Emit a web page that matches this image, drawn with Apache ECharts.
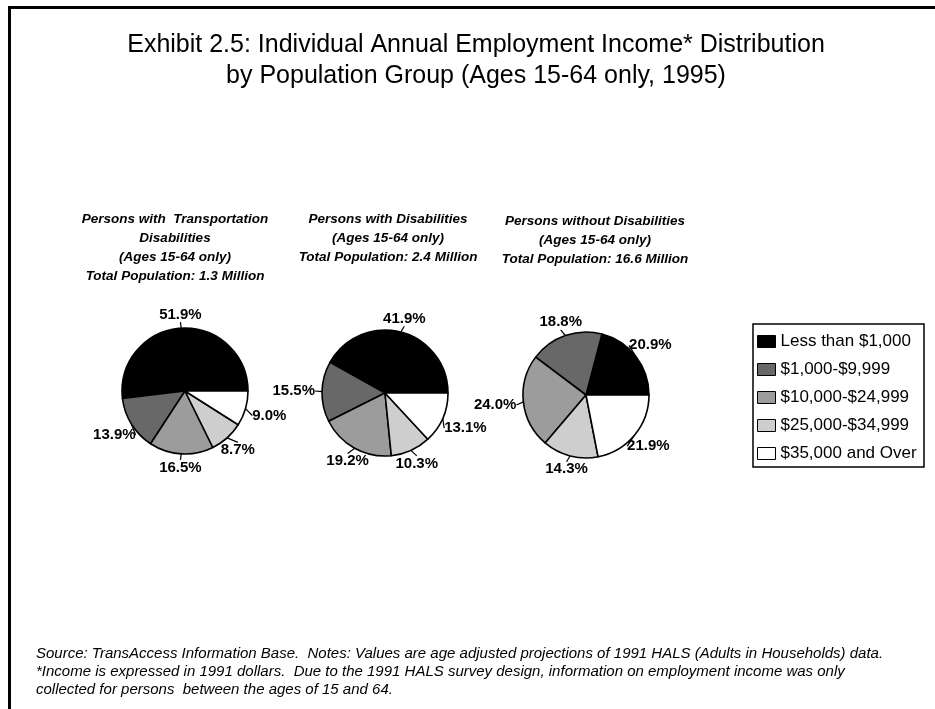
<!DOCTYPE html>
<html>
<head>
<meta charset="utf-8">
<script src="https://cdn.jsdelivr.net/npm/echarts@6/dist/echarts.min.js"></script>
<style>
  html, body { margin: 0; padding: 0; background: #ffffff; }
  #chart { width: 935px; height: 709px; }
</style>
</head>
<body>
<div id="chart"></div>
<script>
// Income bands, in drawing order (counter-clockwise from 3 o'clock)
const incomeBands = [
  'Less than $1,000',
  '$1,000-$9,999',
  '$10,000-$24,999',
  '$25,000-$34,999',
  '$35,000 and Over'
];
const bandColors = ['#000000', '#686868', '#9c9c9c', '#cecece', '#ffffff'];

// Percent of each population group in each income band
const transportationShares = [51.9, 13.9, 16.5, 8.7, 9.0];
const disabilityShares     = [41.9, 15.5, 19.2, 10.3, 13.1];
const noDisabilityShares   = [20.9, 18.8, 24.0, 14.3, 21.9];

const groupTitles = [
  'Persons with  Transportation\nDisabilities\n(Ages 15-64 only)\nTotal Population: 1.3 Million',
  'Persons with Disabilities\n(Ages 15-64 only)\nTotal Population: 2.4 Million',
  'Persons without Disabilities\n(Ages 15-64 only)\nTotal Population: 16.6 Million'
];

const mainTitle = 'Exhibit 2.5: Individual Annual Employment Income* Distribution\nby Population Group (Ages 15-64 only, 1995)';
const footnote =
  'Source: TransAccess Information Base.  Notes: Values are age adjusted projections of 1991 HALS (Adults in Households) data.\n' +
  '*Income is expressed in 1991 dollars.  Due to the 1991 HALS survey design, information on employment income was only\n' +
  'collected for persons  between the ages of 15 and 64.';

const FONT = '"Liberation Sans", Arial, Helvetica, sans-serif';

// Put each percentage just beyond the end of its tick, in the tick's direction
function placeLabel(params) {
  const pts = params.labelLinePoints;
  if (!pts) return {};
  const p0 = pts[0], p1 = pts[1];
  let ux = p1[0] - p0[0], uy = p1[1] - p0[1];
  const len = Math.hypot(ux, uy) || 1;
  ux /= len; uy /= len;
  const hw = params.labelRect.width / 2 + 1;
  const hh = params.labelRect.height / 2;
  const tx = Math.abs(ux) > 1e-6 ? hw / Math.abs(ux) : Infinity;
  const ty = Math.abs(uy) > 1e-6 ? hh / Math.abs(uy) : Infinity;
  const t = Math.min(tx, ty);
  return {
    x: p1[0] + ux * t,
    y: p1[1] + uy * t,
    align: 'center',
    verticalAlign: 'middle'
  };
}

function pieSeries(name, values, center) {
  return {
    name: name,
    type: 'pie',
    center: center,
    radius: 63,
    startAngle: 0,
    clockwise: false,
    avoidLabelOverlap: false,
    silent: true,
    animation: false,
    itemStyle: { borderColor: '#000', borderWidth: 1.6 },
    label: {
      show: true,
      position: 'outside',
      formatter: p => p.value.toFixed(1) + '%',
      color: '#000',
      fontFamily: FONT,
      fontSize: 15,
      fontWeight: 'bold'
    },
    labelLine: {
      show: true,
      length: 6,
      length2: 0,
      lineStyle: { color: '#000', width: 1.2 }
    },
    labelLayout: placeLabel,
    data: incomeBands.map((b, i) => ({
      name: b,
      value: values[i],
      itemStyle: { color: bandColors[i] }
    }))
  };
}

const chart = echarts.init(document.getElementById('chart'), null, { renderer: 'canvas' });

const groupTitleStyle = {
  fontFamily: FONT, fontSize: 13.5, fontStyle: 'italic', fontWeight: 'bold',
  color: '#000', lineHeight: 19
};

chart.setOption({
  backgroundColor: '#ffffff',
  animation: false,
  title: [
    {
      text: mainTitle, left: 471, top: 25, textAlign: 'center',
      textStyle: { fontFamily: FONT, fontSize: 25, fontWeight: 'normal', color: '#000', lineHeight: 31 }
    },
    { text: groupTitles[0], left: 170, top: 205, textAlign: 'center', textStyle: groupTitleStyle },
    { text: groupTitles[1], left: 383, top: 205, textAlign: 'center', textStyle: groupTitleStyle },
    { text: groupTitles[2], left: 590, top: 207, textAlign: 'center', textStyle: groupTitleStyle },
    {
      text: footnote, left: 31, top: 640,
      textStyle: { fontFamily: FONT, fontSize: 15, fontStyle: 'italic', fontWeight: 'normal', color: '#000', lineHeight: 18 }
    }
  ],
  legend: {
    orient: 'vertical',
    left: 757, top: 333,
    padding: 0,
    itemWidth: 18, itemHeight: 12, itemGap: 11,
    icon: 'rect',
    selectedMode: false,
    itemStyle: { borderColor: '#000', borderWidth: 1 },
    textStyle: { fontFamily: FONT, fontSize: 17, color: '#000' },
    data: incomeBands
  },
  graphic: [
    { type: 'line', shape: { x1: 8, y1: 7.5, x2: 935, y2: 7.5 }, style: { stroke: '#000', lineWidth: 3 } },
    { type: 'line', shape: { x1: 9.5, y1: 6, x2: 9.5, y2: 709 }, style: { stroke: '#000', lineWidth: 3 } },
    // legend frame
    { type: 'rect', shape: { x: 753, y: 324, width: 171, height: 143 }, style: { fill: 'none', stroke: '#000', lineWidth: 1.5 }, z: 0 }
  ],
  series: [
    pieSeries('Persons with Transportation Disabilities', transportationShares, [185, 391]),
    pieSeries('Persons with Disabilities', disabilityShares, [385, 393]),
    pieSeries('Persons without Disabilities', noDisabilityShares, [586, 395])
  ]
});
</script>
</body>
</html>
